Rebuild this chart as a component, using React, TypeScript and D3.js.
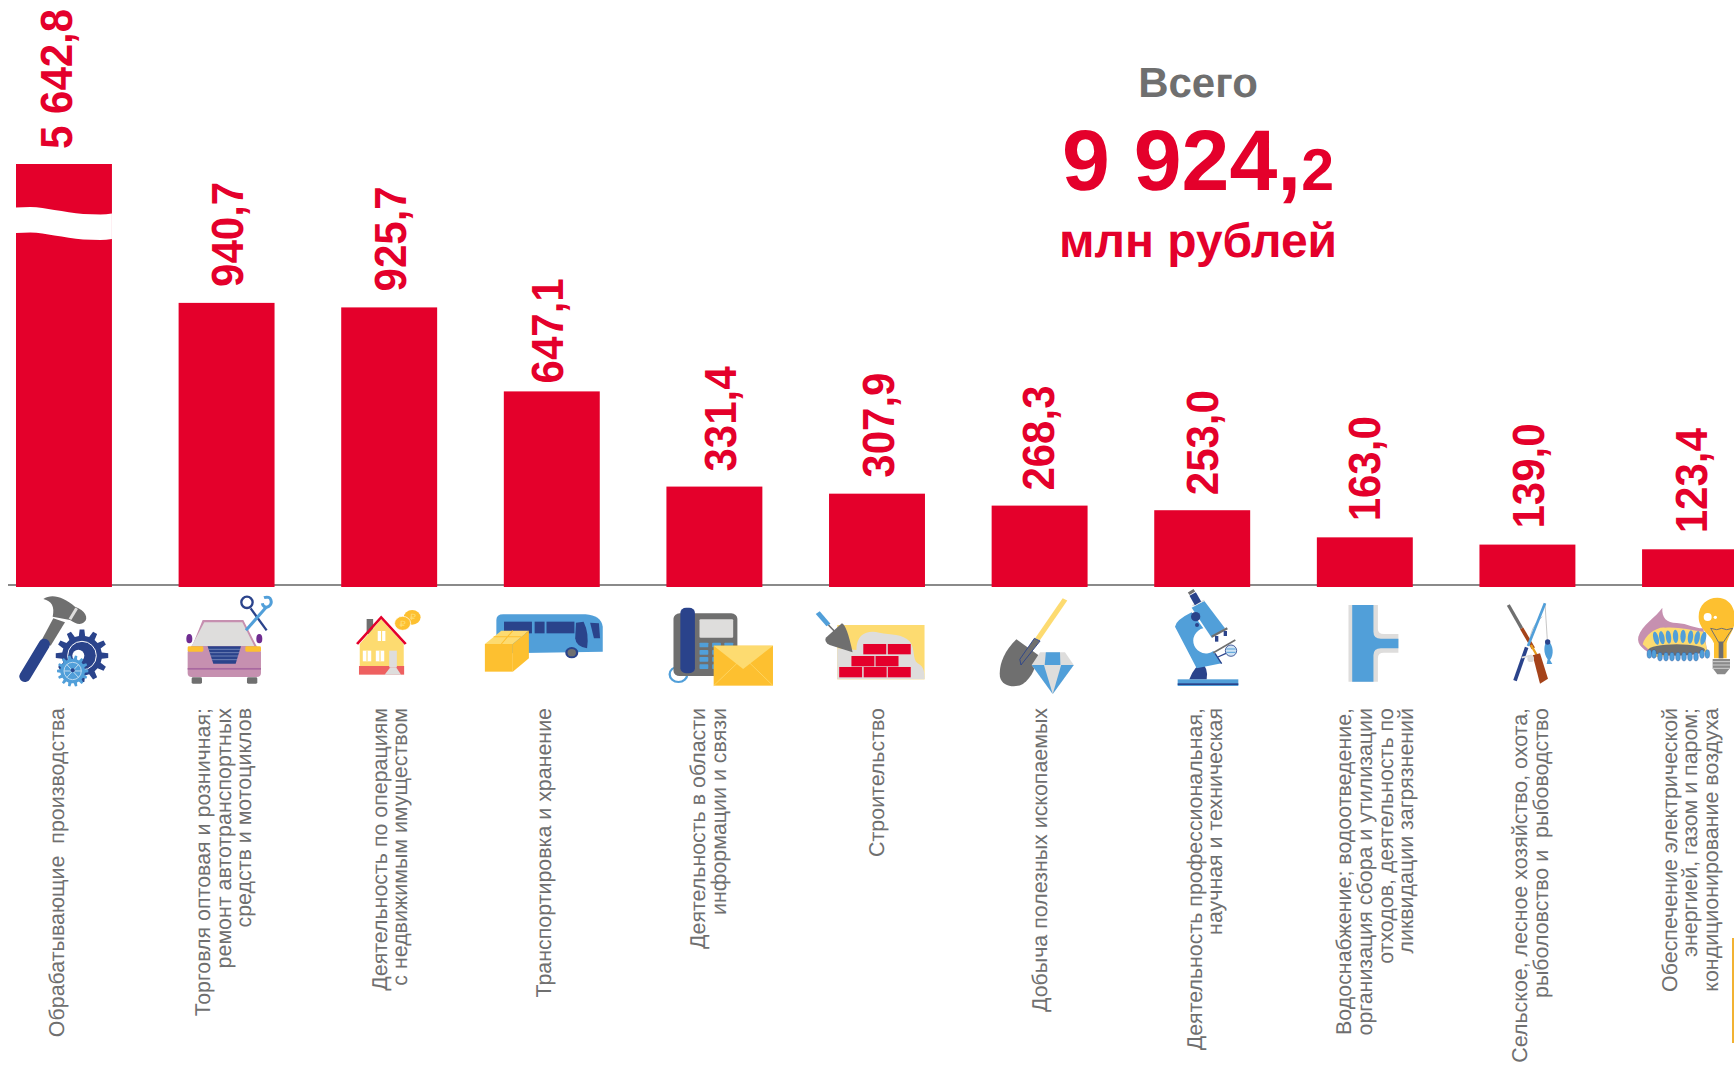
import React from 'react'
import * as d3 from 'd3'

// values as printed on the chart, mln rubles
const values = [5642.8, 940.7, 925.7, 647.1, 331.4, 307.9, 268.3, 253.0, 163.0, 139.0, 123.4]
const valueLabels = ['5 642,8', '940,7', '925,7', '647,1', '331,4', '307,9', '268,3', '253,0', '163,0', '139,0', '123,4']
const categories = [
  ['Обрабатывающие  производства'],
  ['Торговля оптовая и розничная;', 'ремонт автотранспортных', 'средств и мотоциклов'],
  ['Деятельность по операциям', 'с недвижимым имуществом'],
  ['Транспортировка и хранение'],
  ['Деятельность в области', 'информации и связи'],
  ['Строительство'],
  ['Добыча полезных ископаемых'],
  ['Деятельность профессиональная,', 'научная и техническая'],
  ['Водоснабжение; водоотведение,', 'организация сбора и утилизации', 'отходов, деятельность по', 'ликвидации загрязнений'],
  ['Сельское, лесное хозяйство, охота,', 'рыболовство и  рыбоводство'],
  ['Обеспечение электрической', 'энергией, газом и паром;', 'кондиционирование воздуха'],
]
const totalWhole = '9 924,'
const totalFraction = '2'

// hand tweaks for labels, the source slide is not regular
const valueDx = [8, 16, 17, 11.5, 21.5, 17, 14.5, 15.5, 15.5, 16.5, 16.5]
const valueGap = [15, 16, 16, 8, 15, 16, 15, 15, 16, 16, 16]
const labelDx = [0.5, -16.5, -2.5, -0.5, -9.5, 6.5, 7.5, -0.5, -13.5, -0.5, -13.5]

const RED = '#e4002b'
const GREY = '#6f6f6f'
const LIGHT = '#dedddc'
const BLUE = '#519fd9'
const NAVY = '#2a438b'
const YELLOW = '#fdc030'
const PALE = '#fddb70'
const PINK = '#c690b0'
const BROWN = '#a5431a'
const FONT = '"Liberation Sans", Arial, sans-serif'

const width = 1734
const height = 1065
const baseY = 586.5

const x = d3.scaleBand<number>()
  .domain(d3.range(values.length))
  .range([16, 16 + 10 * 162.6 + 96])
  .paddingInner(0.41)
  .paddingOuter(0)

// broken axis: first bar is cut, so the scale is in two pieces
const y = d3.scaleLinear().domain([0, 1000, 5642.8]).range([baseY, 285, 164])

// white wavy gap in the first bar
const cut: [number, number][] = [[0, 207.5], [0.15, 207], [0.4, 210], [0.7, 214], [0.88, 214.5], [1, 213.5]]
const cutArea = d3.area<[number, number]>()
  .x(d => x(0)! + d[0] * x.bandwidth())
  .y0(d => d[1])
  .y1(d => d[1] + 25.5)
  .curve(d3.curveMonotoneX)

function gear(cx: number, cy: number, r: number, r2: number, teeth: number) {
  const p = d3.path()
  const step = (Math.PI * 2) / teeth
  for (let i = 0; i < teeth; i++) {
    const a = i * step
    const pts: [number, number][] = [
      [r2, a - step * 0.3], [r, a - step * 0.17], [r, a + step * 0.17], [r2, a + step * 0.3],
    ]
    pts.forEach(([rr, t], j) => {
      const px = cx + rr * Math.cos(t)
      const py = cy + rr * Math.sin(t)
      if (i === 0 && j === 0) p.moveTo(px, py)
      else p.lineTo(px, py)
    })
  }
  p.closePath()
  return p.toString()
}

const Hammer = () => (
  <g transform="translate(10,585) scale(0.3333)">
    <path d="M130 100 L165 112 L122 182 L95 165 Z" fill={GREY} />
    <path d="M100 42 C125 25 160 35 195 65 C225 75 238 100 222 112 C210 122 195 115 180 105 L128 95 C135 65 125 48 100 42 Z" fill={GREY} />
    <line x1="200" y1="70" x2="180" y2="103" stroke={LIGHT} strokeWidth="9" />
    <line x1="103" y1="178" x2="45" y2="274" stroke={NAVY} strokeWidth="34" strokeLinecap="round" />
    <path d={gear(216, 212, 79, 60, 12)} fill={NAVY} />
    <circle cx="216" cy="212" r="43" fill="none" stroke="#fff" strokeWidth="3" />
    <circle cx="205" cy="212" r="18" fill="#fff" />
    <path d={gear(188, 258, 47, 37, 14)} fill={BLUE} />
    <circle cx="188" cy="258" r="26" fill="none" stroke="#bcdaf0" strokeWidth="3" />
    <g stroke="#bcdaf0" strokeWidth="3">
      <line x1="162" y1="258" x2="214" y2="258" />
      <line x1="170" y1="238" x2="206" y2="278" />
      <line x1="206" y1="238" x2="170" y2="278" />
    </g>
    <circle cx="188" cy="256" r="6" fill={NAVY} />
  </g>
)

const Car = () => (
  <g transform="translate(10,585) scale(0.3333)">
    <ellipse cx="538" cy="161" rx="9" ry="14" fill="#6f2c91" />
    <ellipse cx="748" cy="161" rx="9" ry="14" fill="#6f2c91" />
    <path d="M578 105 L700 105 L738 180 L753 200 L753 265 Q753 276 740 276 L545 276 Q533 276 533 265 L533 200 L550 175 Z" fill={PINK} />
    <path d="M583 112 L697 112 L733 183 L545 183 Z" fill={LIGHT} />
    <rect x="533" y="184" width="47" height="16" rx="4" fill={YELLOW} />
    <rect x="706" y="184" width="47" height="16" rx="4" fill={YELLOW} />
    <path d="M593 184 L693 184 L677 236 L610 236 Z" fill={NAVY} />
    <g stroke="#8fa0cc" strokeWidth="2">
      <line x1="596" y1="193" x2="691" y2="193" />
      <line x1="598" y1="203" x2="688" y2="203" />
      <line x1="601" y1="213" x2="685" y2="213" />
      <line x1="604" y1="224" x2="682" y2="224" />
    </g>
    <rect x="533" y="249" width="220" height="5" fill="#a868a0" />
    <rect x="545" y="277" width="31" height="19" rx="4" fill={GREY} />
    <rect x="711" y="277" width="31" height="19" rx="4" fill={GREY} />
    <line x1="722" y1="70" x2="770" y2="136" stroke={NAVY} strokeWidth="7" />
    <circle cx="711" cy="52" r="17" fill="none" stroke={NAVY} strokeWidth="7" />
    <line x1="770" y1="65" x2="708" y2="136" stroke={BLUE} strokeWidth="9" />
    <path d="M762 38 C785 30 790 55 775 65 C765 70 758 62 757 55" fill="none" stroke={BLUE} strokeWidth="9" />
  </g>
)

const House = () => (
  <g transform="translate(0,570) scale(0.3827,0.3333)">
    <rect x="958" y="147" width="17" height="45" fill={GREY} />
    <circle cx="1077" cy="142" r="22" fill={YELLOW} />
    <circle cx="1052" cy="160" r="21" fill={YELLOW} stroke="#fff" strokeWidth="2" />
    <text x="1052" y="170" textAnchor="middle" fontFamily="DejaVu Sans" fontSize="26" fill={PALE}>₽</text>
    <text x="1079" y="150" textAnchor="middle" fontFamily="DejaVu Sans" fontSize="26" fill={PALE}>₽</text>
    <path d="M940 222 L996 148 L1055 222 L1055 290 L940 290 Z" fill={PALE} />
    <rect x="938" y="288" width="118" height="26" fill="#ee6060" />
    <path d="M933 222 L996 142 L1060 222" fill="none" stroke={RED} strokeWidth="7" />
    <rect x="987" y="183" width="20" height="30" fill="#fff" />
    <rect x="948" y="242" width="22" height="32" fill="#fff" />
    <rect x="982" y="242" width="22" height="32" fill="#fff" />
    <line x1="997" y1="183" x2="997" y2="213" stroke={PALE} strokeWidth="3" />
    <line x1="959" y1="242" x2="959" y2="274" stroke={PALE} strokeWidth="3" />
    <line x1="993" y1="242" x2="993" y2="274" stroke={PALE} strokeWidth="3" />
    <rect x="1017" y="242" width="20" height="50" fill={LIGHT} />
    <path d="M1005 314 L1020 292 L1035 292 L1048 314 Z" fill={LIGHT} />
  </g>
)

const Bus = () => (
  <g transform="translate(0,570) scale(0.3827,0.3333)">
    <path d="M1297 150 Q1297 133 1315 133 L1530 133 Q1570 136 1575 170 L1575 245 L1297 250 Z" fill={BLUE} />
    <rect x="1317" y="155" width="73" height="35" fill={NAVY} />
    <rect x="1397" y="155" width="26" height="35" fill={NAVY} />
    <rect x="1428" y="155" width="73" height="35" fill={NAVY} />
    <path d="M1505 158 L1525 155 Q1540 190 1534 235 Q1505 230 1503 205 Z" fill={NAVY} />
    <path d="M1542 158 L1565 160 L1568 205 L1552 205 Z" fill={NAVY} />
    <circle cx="1494" cy="248" r="17" fill={NAVY} />
    <circle cx="1494" cy="248" r="11" fill={GREY} />
    <path d="M1267 222 L1310 182 L1382 182 L1340 222 Z" fill={PALE} />
    <path d="M1340 222 L1382 182 L1382 265 L1340 305 Z" fill={YELLOW} />
    <rect x="1267" y="222" width="73" height="83" fill={YELLOW} />
    <path d="M1290 200 L1362 200 M1310 222 L1340 182" stroke={YELLOW} strokeWidth="3" />
  </g>
)

const Phone = () => (
  <g transform="translate(600,570) scale(0.3827,0.3333)">
    <circle cx="205" cy="313" r="23" fill="none" stroke={BLUE} strokeWidth="6" />
    <rect x="192" y="130" width="167" height="188" rx="16" fill={GREY} />
    <rect x="260" y="148" width="88" height="55" rx="3" fill={LIGHT} />
    {[218, 240, 261, 283].map(ky => [260, 293, 325].map(kx => (
      <rect key={`${kx}-${ky}`} x={kx} y={ky} width="23" height="14" rx="2" fill={BLUE} />
    )))}
    <rect x="210" y="113" width="38" height="197" rx="15" fill={NAVY} />
    <rect x="297" y="227" width="155" height="120" fill={YELLOW} />
    <path d="M297 227 L452 227 L374 297 Z" fill={PALE} />
    <path d="M297 347 L358 280 M452 347 L392 280" stroke={PALE} strokeWidth="2" />
  </g>
)

const Bricks = () => {
  const rows: [number, number[]][] = [[222, [688, 752]], [258, [657, 720]], [291, [625, 689, 752]]]
  return (
    <g transform="translate(600,570) scale(0.3827,0.3333)">
      <rect x="620" y="165" width="228" height="163" fill={PALE} />
      <path d="M620 328 L620 235 L670 240 C670 190 700 180 730 188 C760 195 790 190 810 215 C825 240 815 265 830 280 C848 290 848 310 848 328 Z" fill={LIGHT} />
      {rows.map(([ry, xs]) => xs.map(bx => (
        <rect key={`${bx}-${ry}`} x={bx} y={ry} width="60" height="31" fill={RED} />
      )))}
      <line x1="569" y1="128" x2="597" y2="165" stroke={BLUE} strokeWidth="13" />
      <line x1="597" y1="165" x2="612" y2="183" stroke={GREY} strokeWidth="4" />
      <path d="M632 160 Q645 165 660 247 L600 225 Q585 215 590 203 Z" fill={GREY} />
    </g>
  )
}

const Shovel = () => (
  <g transform="translate(600,570) scale(0.3827,0.3333)">
    <line x1="1215" y1="88" x2="1143" y2="208" stroke={PALE} strokeWidth="14" />
    <path d="M1088 208 L1145 255 C1140 290 1130 320 1105 342 C1085 355 1050 350 1045 320 C1042 285 1055 245 1088 208 Z" fill={GREY} />
    <path d="M1135 205 L1150 213 L1100 285 L1097 268 Z" fill={GREY} stroke={NAVY} strokeWidth="2.5" />
    <path d="M1150 247 L1215 247 L1238 285 L1183 372 L1128 285 Z" fill={LIGHT} />
    <path d="M1165 247 L1202 247 L1203 285 L1162 285 Z" fill={BLUE} />
    <path d="M1128 285 L1160 285 L1183 372 Z" fill={BLUE} />
    <path d="M1238 285 L1205 285 L1183 372 Z" fill={BLUE} />
  </g>
)

const Microscope = () => (
  <g transform="translate(1160,585) scale(0.3333)">
    <rect x="53" y="283" width="182" height="20" fill={BLUE} />
    <rect x="53" y="295" width="182" height="5" fill={NAVY} />
    <path d="M88 283 Q105 240 125 238 Q145 245 140 283 Z" fill={NAVY} />
    <path d="M45 125 Q48 105 95 82 L130 130 A38 38 0 1 0 160 198 L185 235 L110 250 Z" fill={BLUE} />
    <path d="M95 68 L133 48 L195 130 L155 158 Z" fill={BLUE} />
    <line x1="97" y1="62" x2="133" y2="46" stroke={LIGHT} strokeWidth="4" />
    <line x1="98" y1="27" x2="114" y2="55" stroke={NAVY} strokeWidth="22" />
    <line x1="92" y1="17" x2="97" y2="25" stroke={GREY} strokeWidth="20" />
    <circle cx="107" cy="95" r="14" fill={NAVY} />
    <circle cx="111" cy="120" r="6" fill={NAVY} />
    <line x1="155" y1="155" x2="202" y2="130" stroke={GREY} strokeWidth="7" />
    <rect x="165" y="153" width="10" height="17" fill={NAVY} />
    <rect x="191" y="138" width="10" height="15" fill={NAVY} />
    <line x1="160" y1="203" x2="226" y2="165" stroke={GREY} strokeWidth="5" />
    <path d="M165 205 L185 236 M174 216 L198 205" stroke={NAVY} strokeWidth="4" fill="none" />
    <circle cx="213" cy="197" r="17" fill="#cfe3f3" stroke={NAVY} strokeWidth="2.5" />
    <path d="M199 192 L227 192 M199 202 L227 202" stroke={BLUE} strokeWidth="3" />
  </g>
)

const Pipe = () => (
  <g transform="translate(1150,570) scale(0.3724,0.3333)">
    <path d="M533 105 L612 105 L612 178 Q612 192 628 192 L667 192 L667 248 L628 248 Q612 248 612 264 L612 335 L533 335 Z" fill={LIGHT} />
    <path d="M543 105 L600 105 L600 185 Q600 206 620 206 L667 206 L667 235 L620 235 Q600 235 600 256 L600 335 L543 335 Z" fill={BLUE} />
  </g>
)

const Fishing = () => (
  <g transform="translate(1490,590) scale(0.3333)">
    <line x1="165" y1="40" x2="172" y2="150" stroke="#bbb" strokeWidth="2.5" />
    <path d="M157 80 Q120 110 118 160" fill="none" stroke="#999" strokeWidth="1.5" />
    <line x1="55" y1="45" x2="95" y2="115" stroke={GREY} strokeWidth="10" />
    <line x1="95" y1="115" x2="130" y2="175" stroke={BROWN} strokeWidth="11" />
    <line x1="123" y1="165" x2="140" y2="195" stroke="#e8a020" strokeWidth="7" />
    <path d="M128 196 L150 190 L174 266 L150 281 Z" fill={BROWN} />
    <line x1="165" y1="40" x2="114" y2="168" stroke={BLUE} strokeWidth="8" />
    <line x1="110" y1="172" x2="75" y2="272" stroke={NAVY} strokeWidth="11" />
    <line x1="95" y1="203" x2="125" y2="196" stroke={LIGHT} strokeWidth="5" />
    <circle cx="122" cy="206" r="10" fill={LIGHT} />
    <path d="M172 150 C192 165 192 195 180 210 L187 222 L170 222 L173 208 C160 190 160 165 172 150 Z" fill={BLUE} />
    <circle cx="173" cy="156" r="8" fill={NAVY} />
  </g>
)

const Burner = () => {
  const upper = [108, 126, 146, 167, 189, 211, 231, 250]
  const lower = [88, 102, 120, 138, 156, 174, 192, 210, 228, 246, 262]
  return (
    <g transform="translate(1620,585) scale(0.3333)">
      <path d="M55 155 C65 120 110 95 127 68 C125 100 140 112 170 114 C205 116 220 130 250 130 L262 200 L110 215 C70 195 50 180 55 155 Z" fill={PINK} />
      <path d="M68 178 C75 150 110 125 135 128 C175 125 210 135 250 140 L262 200 L110 215 Z" fill={PALE} />
      {upper.map((fx, i) => (
        <ellipse key={fx} cx={fx} cy={160 - Math.min(i, 7 - i) * 2} rx="8" ry="20" fill={BLUE} transform={`rotate(${(fx - 180) / 5} ${fx} 160)`} />
      ))}
      <ellipse cx="170" cy="195" rx="85" ry="17" fill={GREY} />
      {lower.map(fx => (
        <ellipse key={fx} cx={fx} cy={212 + (fx < 110 || fx > 245 ? -5 : 3)} rx="7" ry="13" fill={BLUE} stroke={NAVY} strokeWidth="1" />
      ))}
      <path d="M292 38 C325 38 345 65 345 100 C345 135 325 150 320 175 L320 220 L282 220 L282 175 C275 150 236 135 236 95 C236 60 262 38 292 38 Z" fill={YELLOW} />
      <circle cx="263" cy="96" r="12" fill="#fff" />
      <circle cx="286" cy="97" r="5" fill="#fff" />
      <path d="M272 130 L290 134 L305 130 L320 134 L338 130 L310 172 L296 172 Z" fill="none" stroke={GREY} strokeWidth="3" />
      <rect x="296" y="170" width="14" height="50" fill={GREY} />
      <path d="M278 222 L330 222 L330 250 L315 268 L292 268 L278 250 Z" fill="#8a8a8a" />
      <path d="M278 230 L330 230 M278 240 L330 240 M278 250 L330 250" stroke="#ddd" strokeWidth="2.5" />
    </g>
  )
}

const icons = [Hammer, Car, House, Bus, Phone, Bricks, Shovel, Microscope, Pipe, Fishing, Burner]

export default function App() {
  return (
    <svg width={width} height={height} viewBox={`0 0 ${width} ${height}`} textRendering="geometricPrecision"
      style={{ position: 'absolute', left: 0, top: 0, display: 'block', background: '#fff' }}>
      <line x1={8} x2={width} y1={585} y2={585} stroke="#8a8a8a" strokeWidth={2} />

      {values.map((v, i) => (
        <rect key={i} x={x(i)} y={y(v)} width={x.bandwidth()} height={587 - y(v)} fill={RED} />
      ))}
      <path d={cutArea(cut)!} fill="#fff" />

      {values.map((v, i) => {
        const cx = x(i)! + x.bandwidth() / 2 + valueDx[i]
        const cy = y(v) - valueGap[i]
        return (
          <text key={i} transform={`translate(${cx},${cy}) rotate(-90) scale(1,1.07)`} fontFamily={FONT}
            fontWeight="bold" fontSize={42} fill={RED}>{valueLabels[i]}</text>
        )
      })}

      {icons.map((Icon, i) => <Icon key={i} />)}

      {categories.map((lines, i) => {
        const cx = x(i)! + x.bandwidth() / 2 + labelDx[i]
        return lines.map((line, j) => (
          <text key={`${i}-${j}`} transform={`translate(${cx + j * 20.7},708) rotate(-90)`} textAnchor="end"
            fontFamily={FONT} fontSize={21.4} fill={GREY} style={{ whiteSpace: 'pre' }}>{line}</text>
        ))
      })}

      <text x={1198} y={97} textAnchor="middle" fontFamily={FONT} fontWeight="bold" fontSize={42} fill={GREY}>Всего</text>
      <text x={1198} y={190} textAnchor="middle" fontFamily={FONT} fontWeight="bold" fontSize={86} fill={RED}>
        {totalWhole}<tspan fontSize={59}>{totalFraction}</tspan>
      </text>
      <text x={1198} y={257} textAnchor="middle" fontFamily={FONT} fontWeight="bold" fontSize={48} fill={RED}>млн рублей</text>

      <rect x={1732} y={938} width={2} height={105} fill="#f2b233" />
    </svg>
  )
}
